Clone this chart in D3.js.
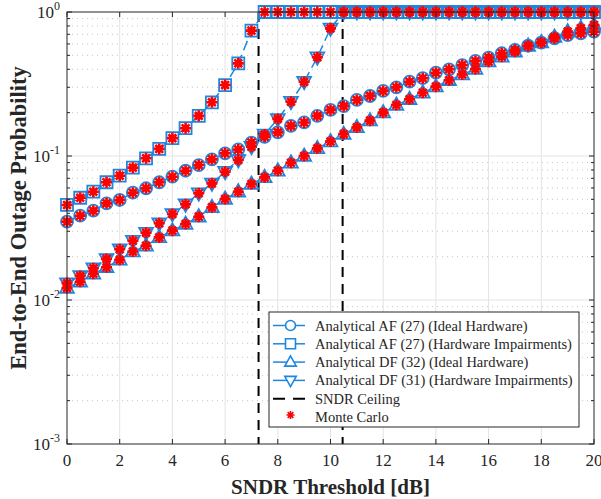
<!DOCTYPE html>
<html>
<head>
<meta charset="utf-8">
<script src="https://cdn.jsdelivr.net/npm/d3@7"></script>
<style>
  body { margin: 0; background: #fff; }
  svg text { font-family: "Liberation Serif", "Times New Roman", serif; fill: #262626; }
</style>
</head>
<body>
<div id="chart"></div>
<script>
// SNDR threshold [dB]
const snr = [0, 0.5, 1, 1.5, 2, 2.5, 3, 3.5, 4, 4.5, 5, 5.5, 6, 6.5, 7, 7.5, 8, 8.5, 9, 9.5, 10,
  10.5, 11, 11.5, 12, 12.5, 13, 13.5, 14, 14.5, 15, 15.5, 16, 16.5, 17, 17.5, 18, 18.5, 19, 19.5, 20];

const afIdeal = [0.0350, 0.0385, 0.0417, 0.0469, 0.0495, 0.0556, 0.0597, 0.0657, 0.0718, 0.079, 0.0865,
  0.0948, 0.1044, 0.111, 0.124, 0.136, 0.146, 0.162, 0.171, 0.190, 0.209,
  0.222, 0.245, 0.261, 0.283, 0.300, 0.328, 0.347, 0.379, 0.400, 0.428,
  0.457, 0.482, 0.517, 0.545, 0.583, 0.612, 0.657, 0.692, 0.711, 0.730];

const afHwi = [0.0457, 0.0513, 0.0565, 0.0657, 0.073, 0.083, 0.0964, 0.112, 0.133, 0.156, 0.190,
  0.236, 0.311, 0.440, 0.742, 1, 1, 1, 1, 1, 1,
  1, 1, 1, 1, 1, 1, 1, 1, 1, 1,
  1, 1, 1, 1, 1, 1, 1, 1, 1, 1];

const dfIdeal = [0.0121, 0.0134, 0.0152, 0.0169, 0.0190, 0.0217, 0.0238, 0.0272, 0.0303, 0.0337, 0.0379,
  0.0440, 0.0503, 0.0565, 0.0639, 0.0711, 0.0790, 0.0898, 0.100, 0.113, 0.126,
  0.142, 0.158, 0.176, 0.200, 0.226, 0.248, 0.275, 0.303, 0.336, 0.368,
  0.402, 0.452, 0.489, 0.530, 0.581, 0.614, 0.670, 0.730, 0.771, 0.813];

const dfHwi = [0.0131, 0.0147, 0.0166, 0.0193, 0.0225, 0.0258, 0.0293, 0.0341, 0.0396, 0.0462, 0.0551,
  0.0646, 0.0778, 0.0938, 0.116, 0.141, 0.181, 0.238, 0.328, 0.485, 0.770,
  1, 1, 1, 1, 1, 1, 1, 1, 1, 1,
  1, 1, 1, 1, 1, 1, 1, 1, 1, 1];

// SNDR ceilings [dB]
const ceilings = [7.27, 10.46];

const xTicks = [0, 2, 4, 6, 8, 10, 12, 14, 16, 18, 20];
const yDecades = [-3, -2, -1, 0];

const seriesNames = [
  "Analytical AF (27) (Ideal Hardware)",
  "Analytical AF (27) (Hardware Impairments)",
  "Analytical DF (32) (Ideal Hardware)",
  "Analytical DF (31) (Hardware Impairments)"
];
const seriesMarkers = ["circle", "square", "up", "down"];
const seriesValues = [afIdeal, afHwi, dfIdeal, dfHwi];

const W = 601, H = 499;
const margin = { top: 12, right: 7, bottom: 55, left: 67 };
const width = W - margin.left - margin.right,
  height = H - margin.top - margin.bottom;

const blue = "#1f86e0";
const red = "#ff0000";
const font = "'Liberation Serif', 'Times New Roman', serif";

const svg = d3.select("#chart")
  .append("svg")
  .attr("width", W)
  .attr("height", H)
  .attr("font-family", font);

const g = svg.append("g")
  .attr("transform", `translate(${margin.left},${margin.top})`);

const x = d3.scaleLinear().domain([0, 20]).range([0, width]);
const y = d3.scaleLog().domain([1e-3, 1]).range([height, 0]);

// minor values per decade
const minors = [];
yDecades.slice(0, -1).forEach(d => {
  for (let k = 2; k <= 9; k++) minors.push(k * Math.pow(10, d));
});

// grid
g.append("g").selectAll("line")
  .data(minors)
  .join("line")
  .attr("x1", 0).attr("x2", width)
  .attr("y1", d => y(d)).attr("y2", d => y(d))
  .attr("stroke", "#c8c8c8")
  .attr("stroke-dasharray", "1,4");

g.append("g").selectAll("line")
  .data(xTicks.slice(1, -1))
  .join("line")
  .attr("x1", d => x(d)).attr("x2", d => x(d))
  .attr("y1", 0).attr("y2", height)
  .attr("stroke", "#e3e3e3");

g.append("g").selectAll("line")
  .data(yDecades.slice(1, -1))
  .join("line")
  .attr("x1", 0).attr("x2", width)
  .attr("y1", d => y(Math.pow(10, d))).attr("y2", d => y(Math.pow(10, d)))
  .attr("stroke", "#e3e3e3");

// marker shapes
function markerPath(type, s) {
  if (type === "circle") return d3.symbol(d3.symbolCircle, Math.PI * s * s)();
  if (type === "square") return `M${-s},${-s}H${s}V${s}H${-s}Z`;
  if (type === "up") return `M0,${-s * 1.25}L${s * 1.15},${s * 0.8}L${-s * 1.15},${s * 0.8}Z`;
  return `M0,${s * 1.25}L${s * 1.15},${-s * 0.8}L${-s * 1.15},${-s * 0.8}Z`;
}
const starPath = (r) => {
  const a = r * Math.SQRT1_2;
  return `M${-r},0H${r}M0,${-r}V${r}M${-a},${-a}L${a},${a}M${-a},${a}L${a},${-a}`;
};

const line = d3.line()
  .x(d => x(d[0]))
  .y(d => y(d[1]));

// ceiling lines
g.append("g").selectAll("line")
  .data(ceilings)
  .join("line")
  .attr("x1", d => x(d)).attr("x2", d => x(d))
  .attr("y1", 0).attr("y2", height)
  .attr("stroke", "#000")
  .attr("stroke-width", 2)
  .attr("stroke-dasharray", "10,7");

// analytical curves
seriesValues.forEach((vals, i) => {
  const pts = snr.map((s, j) => [s, vals[j]]);
  g.append("path")
    .datum(pts)
    .attr("d", line)
    .attr("fill", "none")
    .attr("stroke", blue)
    .attr("stroke-width", 1.5)
    .attr("stroke-dasharray", "10,5");
  g.append("g").selectAll("path")
    .data(pts)
    .join("path")
    .attr("transform", d => `translate(${x(d[0])},${y(d[1])})`)
    .attr("d", markerPath(seriesMarkers[i], 6))
    .attr("fill", "none")
    .attr("stroke", blue)
    .attr("stroke-width", 1.8);
});

// Monte Carlo points
seriesValues.forEach(vals => {
  g.append("g").selectAll("path")
    .data(snr.map((s, j) => [s, vals[j]]))
    .join("path")
    .attr("transform", d => `translate(${x(d[0])},${y(d[1])})`)
    .attr("d", starPath(5.5))
    .attr("fill", "none")
    .attr("stroke", red)
    .attr("stroke-width", 2.6);
});

// axes box and ticks
const axes = g.append("g").attr("stroke", "#262626").attr("stroke-width", 1);
axes.append("rect")
  .attr("width", width).attr("height", height)
  .attr("fill", "none");
xTicks.forEach(t => {
  axes.append("line").attr("x1", x(t)).attr("x2", x(t)).attr("y1", height).attr("y2", height - 5);
  axes.append("line").attr("x1", x(t)).attr("x2", x(t)).attr("y1", 0).attr("y2", 5);
});
yDecades.forEach(d => {
  const yy = y(Math.pow(10, d));
  axes.append("line").attr("x1", 0).attr("x2", 5).attr("y1", yy).attr("y2", yy);
  axes.append("line").attr("x1", width).attr("x2", width - 5).attr("y1", yy).attr("y2", yy);
});
minors.forEach(m => {
  axes.append("line").attr("x1", 0).attr("x2", 3).attr("y1", y(m)).attr("y2", y(m));
  axes.append("line").attr("x1", width).attr("x2", width - 3).attr("y1", y(m)).attr("y2", y(m));
});

// tick labels
g.append("g").selectAll("text")
  .data(xTicks)
  .join("text")
  .attr("x", d => x(d))
  .attr("y", height + 22)
  .attr("text-anchor", "middle")
  .style("font-size", "17px")
  .text(d => d);

const yl = g.append("g").selectAll("text")
  .data(yDecades)
  .join("text")
  .attr("x", -7)
  .attr("y", d => y(Math.pow(10, d)) + 6)
  .attr("text-anchor", "end")
  .style("font-size", "17px");
yl.append("tspan").text("10");
yl.append("tspan")
  .attr("dy", -8)
  .style("font-size", "12px")
  .text(d => d);

// axis titles
svg.append("text")
  .attr("x", margin.left + width / 2)
  .attr("y", 494)
  .attr("text-anchor", "middle")
  .style("font-size", "21px")
  .style("font-weight", "bold")
  .text("SNDR Threshold [dB]");

svg.append("text")
  .attr("transform", `translate(26,${margin.top + height / 2 - 10}) rotate(-90)`)
  .attr("text-anchor", "middle")
  .style("font-size", "22.5px")
  .style("font-weight", "bold")
  .text("End-to-End Outage Probability");

// legend
const leg = svg.append("g").attr("transform", "translate(269,312)");
leg.append("rect")
  .attr("width", 310).attr("height", 115)
  .attr("fill", "#fff")
  .attr("stroke", "#262626");
const rowY = i => 13.5 + i * 18.3;
seriesNames.forEach((name, i) => {
  leg.append("line")
    .attr("x1", 4).attr("x2", 36)
    .attr("y1", rowY(i)).attr("y2", rowY(i))
    .attr("stroke", blue).attr("stroke-width", 1.5);
  leg.append("path")
    .attr("transform", `translate(21.5,${rowY(i)})`)
    .attr("d", markerPath(seriesMarkers[i], 5))
    .attr("fill", "#fff")
    .attr("stroke", blue)
    .attr("stroke-width", 1.6);
  leg.append("text")
    .attr("x", 46).attr("y", rowY(i) + 5)
    .style("font-size", "14.5px")
    .text(name);
});
leg.append("line")
  .attr("x1", 4).attr("x2", 36)
  .attr("y1", rowY(4)).attr("y2", rowY(4))
  .attr("stroke", "#000").attr("stroke-width", 2)
  .attr("stroke-dasharray", "12,8");
leg.append("text")
  .attr("x", 46).attr("y", rowY(4) + 5)
  .style("font-size", "14.5px")
  .text("SNDR Ceiling");
leg.append("path")
  .attr("transform", `translate(21.5,${rowY(5) - 2})`)
  .attr("d", starPath(4))
  .attr("stroke", red).attr("stroke-width", 1.6);
leg.append("text")
  .attr("x", 46).attr("y", rowY(5) + 5)
  .style("font-size", "14.5px")
  .text("Monte Carlo");
</script>
</body>
</html>
